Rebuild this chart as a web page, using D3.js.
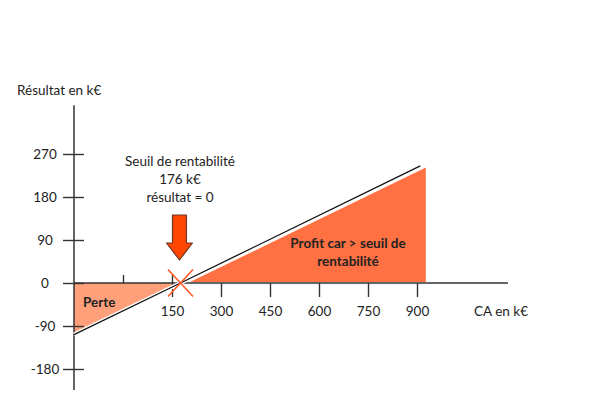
<!DOCTYPE html>
<html>
<head>
<meta charset="utf-8">
<script src="https://cdn.jsdelivr.net/npm/d3@7"></script>
<style>
  body { margin: 0; background: #fff; }
  text { font-family: Lato, "Open Sans", sans-serif; fill: #222; }
</style>
</head>
<body>
<svg class="chart" width="600" height="400"></svg>
<script>
// chart values
const xTicks = [0, 150, 300, 450, 600, 750, 900];
const yTicks = [-180, -90, 0, 90, 180, 270];
const seuil = 176;
// résultat line (CA, résultat)
const lineCA = [-150, seuil, 910];
const lineRes = [-108, 0, 245];
// loss and profit areas
const perteCA = [-150, 172, -150];
const perteRes = [0, 0, -105];
const profitCA = [205, 927, 927];
const profitRes = [2, 2, 242];

const svg = d3.select('.chart');
const fs = '13.5px';

// scales (y axis sits at CA = -150)
const x = d3.scaleLinear().domain([-150, 900]).range([74, 417]);
const y = d3.scaleLinear().domain([-180, 270]).range([369, 154]);

const pts = (xs, ys) => xs.map((d, i) => [x(d), y(ys[i])]);

// fills
svg.append('path')
  .attr('d', 'M' + pts(perteCA, perteRes).join('L') + 'Z')
  .attr('fill', '#ffa07a');
svg.append('path')
  .attr('d', 'M' + pts(profitCA, profitRes).join('L') + 'Z')
  .attr('fill', '#ff7142');

// y axis
const yAxis = svg.append('g')
  .attr('transform', `translate(${x(-150)},0)`)
  .call(d3.axisLeft(y).tickValues(yTicks).tickSize(0).tickFormat(d => String(d)));
yAxis.select('.domain').remove();
yAxis.selectAll('.tick line').attr('x1', -11).attr('x2', 10)
  .attr('stroke', '#333').attr('stroke-width', 1.4);
yAxis.selectAll('.tick text')
  .attr('x', -29).attr('dy', '0.35em')
  .attr('text-anchor', 'middle')
  .style('font-size', fs).style('font-family', 'Lato');
yAxis.append('line')
  .attr('y1', y(372)).attr('y2', y(-224))
  .attr('stroke', '#333').attr('stroke-width', 1.5);

// x axis
const xAxis = svg.append('g')
  .attr('transform', `translate(0,${y(0)})`)
  .call(d3.axisBottom(x).tickValues(xTicks).tickSize(14)
    .tickFormat(d => d === 0 ? '' : String(d)));
xAxis.select('.domain').remove();
xAxis.selectAll('.tick line')
  .attr('y1', d => d <= 150 ? -8 : 0)
  .attr('y2', d => d === 0 ? 0 : 14)
  .attr('stroke', '#333').attr('stroke-width', 1.4);
xAxis.selectAll('.tick text')
  .attr('y', 33).attr('dy', 0)
  .style('font-size', fs).style('font-family', 'Lato');
xAxis.append('line')
  .attr('x1', x(-150)).attr('x2', 508)
  .attr('stroke', '#333').attr('stroke-width', 1.5);

// résultat line
const line = d3.line();
svg.append('path')
  .attr('d', line(pts(lineCA, lineRes)))
  .attr('fill', 'none').attr('stroke', '#fff').attr('stroke-width', 4);
svg.append('path')
  .attr('d', line(pts(lineCA, lineRes)))
  .attr('fill', 'none').attr('stroke', '#111').attr('stroke-width', 1.3);

// break-even cross
const cx = x(seuil), cy = y(0);
svg.append('path')
  .attr('d', `M${cx - 12.5},${cy - 13.5}L${cx + 12.5},${cy + 13.5}M${cx - 12.5},${cy + 13.5}L${cx + 12.5},${cy - 13.5}`)
  .attr('stroke', '#ff5a26').attr('stroke-width', 1.6).attr('fill', 'none');

// arrow
const ax = cx - 1;
svg.append('path')
  .attr('d', `M${ax - 7},215 L${ax + 7},215 L${ax + 7},243 L${ax + 13},243 L${ax},260 L${ax - 13},243 L${ax - 7},243 Z`)
  .attr('fill', '#ff4500').attr('stroke', '#6b3a2a').attr('stroke-width', 1.2)
  .attr('stroke-linejoin', 'round');

// texts
svg.append('text').attr('x', 17).attr('y', 95)
  .style('font-size', fs).text('Résultat en k€');
svg.append('text').attr('x', 474).attr('y', 316)
  .style('font-size', fs).text('CA en k€');

svg.selectAll('.annot')
  .data(['Seuil de rentabilité', seuil + ' k€', 'résultat = 0'])
  .join('text')
  .attr('class', 'annot')
  .attr('x', 180).attr('y', (d, i) => 166 + i * 18)
  .attr('text-anchor', 'middle')
  .style('font-size', fs)
  .text(d => d);

svg.append('text').attr('x', 83).attr('y', 307)
  .style('font-size', fs).style('font-weight', 'bold').text('Perte');

svg.selectAll('.profit')
  .data(['Profit car > seuil de', 'rentabilité'])
  .join('text')
  .attr('class', 'profit')
  .attr('x', 348).attr('y', (d, i) => 248 + i * 18)
  .attr('text-anchor', 'middle')
  .style('font-size', fs).style('font-weight', 'bold')
  .text(d => d);
</script>
</body>
</html>
